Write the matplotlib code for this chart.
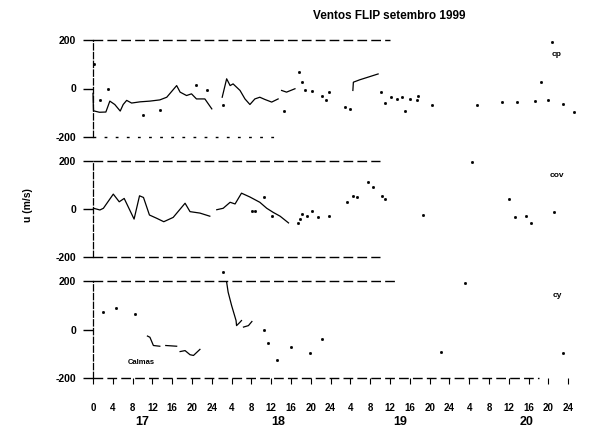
import numpy as np
import matplotlib
matplotlib.use("Agg")
import matplotlib.pyplot as plt

nan = np.nan

# horas desde 0h do dia 17
cp_h = [0, 0.1, 1.3, 2.6, 3.4, 4.4, 5.5, 6.1, 6.8, 7.8, 9.5, 11.5, 13.5, 14.9, 16.9, 17.6,
        18.9, 19.9, 20.9, 22.6, 24.0, nan, 26.1, 27.0, 27.7, 28.3, 29.7, 30.7, 31.7, 32.7,
        33.7, 34.7, 36.1, 37.4, nan, 38.1, 39.1, 40.8, nan, 52.5, 52.6, 53.9, 55.6, 57.6]
cp_u = [-20, -92, -98, -97, -52, -66, -93, -66, -49, -60, -55, -52, -47, -36, 12, -15,
        -29, -22, -43, -43, -84, nan, -36, 40, 12, 19, -8, -43, -66, -43,
        -36, -45, -56, -43, nan, -8, -15, -1, nan, -8, 26, 36, 47, 60]
cp_pts_h = [0.3, 1.4, 3.1, 10.2, 13.5, 20.9, 23.0, 26.3, 38.6, 41.7, 42.2, 42.8, 44.2, 46.2,
            47.1, 47.7, 50.9, 51.9, 58.2, 59.0, 60.3, 61.4, 62.4, 63.0, 64.0, 65.4, 65.7,
            68.4, 77.5, 82.6, 85.6, 89.3, 90.6, 92.0, 92.7, 94.9, 97.2]
cp_pts_u = [100, -49, -1, -111, -88, 16, -8, -70, -93, 67, 26, -8, -11, -29,
            -47, -15, -77, -84, -15, -60, -36, -43, -36, -91, -43, -49, -29,
            -70, -70, -56, -56, -52, 26, -47, 190, -63, -98]

cov_h = [0.1, 1.4, 2.1, 4.1, 5.3, 6.3, 8.3, 9.4, 10.2, 11.4, 12.9, 14.3, 16.2, 18.6, 19.6,
         21.6, 23.6, nan, 25.0, 26.3, 27.7, 28.7, 30.0, 31.7, 33.7, 35.1, 36.4, 37.8, 39.5]
cov_u = [3, -4, 3, 62, 30, 44, -42, 55, 48, -25, -39, -53, -35, 24, -11,
         -17, -30, nan, -3, 3, 28, 21, 66, 50, 28, 3, -14, -30, -58]
cov_pts_h = [32.1, 32.8, 34.5, 36.1, 41.5, 41.8, 42.2, 43.2, 44.2, 45.5, 47.7, 51.4, 52.5,
             53.4, 55.6, 56.5, 58.3, 59.0, 66.6, 76.5, 84.1, 85.3, 87.5, 88.4, 93.1]
cov_pts_u = [-7, -10, 48, -28, -58, -42, -21, -28, -7, -35, -30, 28, 55,
             48, 111, 90, 55, 41, -25, 196, 41, -35, -30, -58, -14]

cy_h = [11.0, 11.5, 12.2, 13.5, nan, 14.7, 16.9, nan, 17.6, 18.6, 19.6, 20.3, 21.6, nan,
        27.0, 27.3, 28.0, 28.9, 29.0, 29.6, 30.0, nan, 30.4, 31.4, 32.1]
cy_u = [-27, -32, -66, -69, nan, -66, -69, nan, -91, -87, -104, -107, -82, nan,
        195, 154, 99, 37, 16, 28, 37, nan, 10, 16, 33]
cy_pts_h = [2.1, 4.6, 8.5, 26.3, 34.5, 35.4, 37.1, 40.1, 43.8, 46.2, 70.4, 75.2, 94.9]
cy_pts_u = [71, 88, 65, 236, -4, -55, -124, -73, -96, -38, -91, 192, -96]

hora_ticks = list(range(0, 97, 4))
hora_labels = ['0', '4', '8', '12', '16', '20', '24'] + ['4', '8', '12', '16', '20', '24'] * 3
dias = ['17', '18', '19', '20']
dias_h = [10, 37.5, 62, 87.5]

paineis = [
    ('cp', cp_h, cp_u, cp_pts_h, cp_pts_u, 60, 38),
    ('cov', cov_h, cov_u, cov_pts_h, cov_pts_u, 58, 58),
    ('cy', cy_h, cy_u, cy_pts_h, cy_pts_u, 61, 90),
]

plt.rcParams['font.family'] = ['Liberation Sans', 'DejaVu Sans']
plt.rcParams['font.weight'] = 'bold'

fig = plt.figure(figsize=(6.05, 4.28), dpi=100)
W, H = 605, 428
x0 = 93
tops = [40, 161, 281]
bots = [137, 257, 378]
xmax = (W - x0) / 4.95

axes = []
for i, (nome, h, u, ph, pu, fim_top, fim_bot) in enumerate(paineis):
    ax = fig.add_axes([x0 / W, 1 - bots[i] / H, 1 - x0 / W, (bots[i] - tops[i]) / H])
    ax.set_xlim(0, xmax)
    ax.set_ylim(-200, 200)
    for s in ['top', 'right', 'bottom']:
        ax.spines[s].set_visible(False)
    ax.spines['left'].set_linestyle((0, (5, 2)))
    ax.spines['left'].set_linewidth(0.9)
    ax.hlines(200, 0, fim_top, colors='black', lw=1.0, linestyles=(0, (7, 3)), clip_on=False)
    ax.hlines(-200, 0, fim_bot, colors='black', lw=1.0,
              linestyles=(0, (7, 3)) if i != 0 else (0, (2, 6)), clip_on=False)
    ax.plot(h, u, color='black', lw=0.9, clip_on=False)
    ax.plot(ph, pu, 's', color='black', ms=1.0, clip_on=False)
    ax.set_yticks([200, 0, -200])
    ax.set_yticklabels(['200', '0', '-200'])
    ax.tick_params(axis='y', length=7, width=1, pad=5, labelsize=7.5)
    ax.text(93.7, 140, nome, fontsize=6, fontweight='bold', ha='center', va='center')
    if i < 2:
        ax.set_xticks([])
    axes.append(ax)

ax3 = axes[2]
ax3.set_xticks(hora_ticks)
ax3.set_xticklabels(hora_labels)
ax3.tick_params(axis='x', length=4, width=0.8, pad=14, labelsize=7)
for d, dh in zip(dias, dias_h):
    ax3.text(dh, -0.45, d, transform=ax3.get_xaxis_transform(), fontsize=9,
             fontweight='bold', ha='center', va='center')
ax3.text(9.8, -135, 'Calmas', fontsize=5.5, fontweight='bold', ha='center', va='center')

fig.text(0.643, 0.962, 'Ventos FLIP setembro 1999', fontsize=8.5, fontweight='bold',
         ha='center', va='center')
fig.text(0.046, 0.52, 'u (m/s)', fontsize=7.5, fontweight='bold', rotation=90,
         ha='center', va='center')

fig.savefig('out.png', dpi=100)
